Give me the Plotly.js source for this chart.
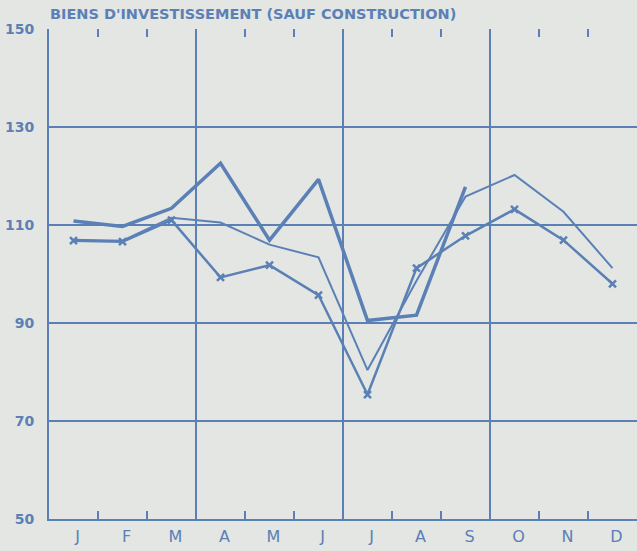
<!DOCTYPE html>
<html>
<head>
<meta charset="utf-8">
<script src="https://cdn.plot.ly/plotly-3.0.1.min.js"></script>
<style>html,body{margin:0;padding:0;background:#e3e6e2;}</style>
</head>
<body>
<div id="chart" style="width:637px;height:551px;"></div>
<script>
const months = ["J","F","M","A","M","J","J","A","S","O","N","D"];
const monthIdx = [0,1,2,3,4,5,6,7,8,9,10,11];
const seriesThick = [110.8,109.7,113.4,122.6,106.9,119.3,90.5,91.6,117.8,null,null,null];
const seriesThin  = [107.0,106.8,111.5,110.5,106.0,103.4,80.4,98.6,115.8,120.2,112.7,101.2];
const seriesCross = [106.8,106.6,111.0,99.3,101.8,95.7,75.4,101.2,107.8,113.2,106.9,98.0];
const yTicks = [50,70,90,110,130,150];
const quarterLines = [2.5,5.5,8.5];
const monthTicks = [0.5,1.5,3.5,4.5,6.5,7.5,9.5,10.5];

const C = '#5b80b6';
const BG = '#e3e6e2';
const F = 'DejaVu Sans';

const traces = [
  {x: monthIdx, y: seriesThin, mode:'lines', line:{color:C, width:2}, connectgaps:false, hoverinfo:'skip'},
  {x: monthIdx, y: seriesCross, mode:'lines+markers', line:{color:C, width:2.5},
   marker:{symbol:'x-thin-open', size:7, color:C, line:{color:C, width:2.5}}, hoverinfo:'skip'},
  {x: monthIdx, y: seriesThick, mode:'lines', line:{color:C, width:3.5}, connectgaps:false, hoverinfo:'skip'},
  {x: [], y: [], xaxis:'x2', mode:'lines', hoverinfo:'skip'}
];

const layout = {
  width:637, height:551,
  margin:{l:49, r:0, t:29, b:32},
  paper_bgcolor:BG, plot_bgcolor:BG,
  showlegend:false,
  title:{text:"BIENS D'INVESTISSEMENT (SAUF CONSTRUCTION)", x:50/637, xanchor:'left', xref:'container',
         y:1-14/551, yanchor:'middle', yref:'container',
         font:{family:F, size:14.5, color:C, weight:'bold'}},
  xaxis:{range:[-0.5,11.5], tickmode:'array', tickvals:monthIdx, ticktext:months,
         ticks:'', showgrid:false, zeroline:false, showline:true, linecolor:C, linewidth:2,
         tickfont:{family:F, size:16, color:C}, ticklabelshift:4, ticklabelstandoff:2,
         minor:{tickmode:'array', tickvals:monthTicks, ticks:'inside', ticklen:8, tickwidth:2, tickcolor:C, showgrid:false},
         fixedrange:true},
  xaxis2:{overlaying:'x', side:'top', range:[-0.5,11.5], tickmode:'array', tickvals:quarterLines,
          ticks:'', showticklabels:false, showgrid:true, gridcolor:C, gridwidth:2, zeroline:false, showline:false,
          minor:{tickmode:'array', tickvals:monthTicks, ticks:'inside', ticklen:8, tickwidth:2, tickcolor:C, showgrid:false},
          fixedrange:true},
  yaxis:{range:[50,150], tickmode:'array', tickvals:yTicks, ticks:'', showgrid:true, gridcolor:C, gridwidth:2,
         zeroline:false, showline:true, linecolor:C, linewidth:2,
         tickfont:{family:F, size:14, color:C, weight:'bold'}, ticklabelstandoff:10, fixedrange:true}
};

Plotly.newPlot('chart', traces, layout, {displayModeBar:false, staticPlot:true});
</script>
</body>
</html>
